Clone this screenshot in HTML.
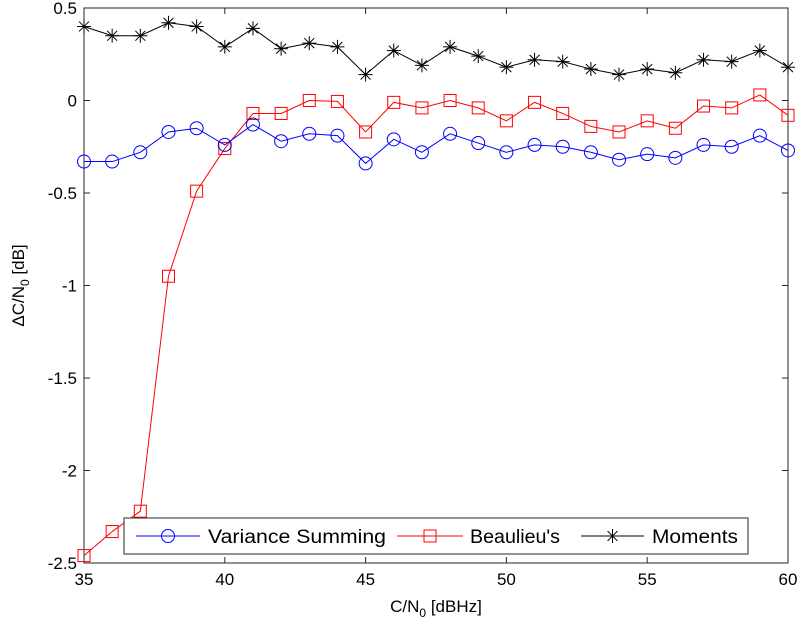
<!DOCTYPE html>
<html><head><meta charset="utf-8"><style>
body{margin:0;background:#fff;}
svg text{font-family:"Liberation Sans",Arial,sans-serif;fill:#000;}
</style></head><body>
<svg id="chart" width="798" height="628" xmlns="http://www.w3.org/2000/svg"></svg>
<script>
const xs=[35,36,37,38,39,40,41,42,43,44,45,46,47,48,49,50,51,52,53,54,55,56,57,58,59,60];
const variance=[-0.33,-0.33,-0.28,-0.17,-0.15,-0.24,-0.13,-0.22,-0.18,-0.19,-0.34,-0.21,-0.28,-0.18,-0.23,-0.28,-0.24,-0.25,-0.28,-0.32,-0.29,-0.31,-0.24,-0.25,-0.19,-0.27];
const beaulieu=[-2.46,-2.33,-2.22,-0.95,-0.49,-0.26,-0.07,-0.07,0.00,-0.005,-0.17,-0.01,-0.04,0.00,-0.04,-0.11,-0.01,-0.07,-0.14,-0.17,-0.11,-0.15,-0.03,-0.04,0.03,-0.08];
const moments=[0.40,0.35,0.35,0.42,0.40,0.29,0.39,0.28,0.31,0.29,0.14,0.27,0.19,0.29,0.24,0.18,0.22,0.21,0.17,0.14,0.17,0.15,0.22,0.21,0.27,0.18];
const xTicks=[35,40,45,50,55,60];
const yTicks=[0.5,0,-0.5,-1,-1.5,-2,-2.5];
const yTickLabels=["0.5","0","-0.5","-1","-1.5","-2","-2.5"];
const L=84,R=788,T=8,B=563;
const sx=v=>L+(v-35)/25*(R-L);
const sy=v=>T+(0.5-v)/3*(B-T);
const svg=document.getElementById('chart');
const NS='http://www.w3.org/2000/svg';
function mk(tag,attrs,parent){const e=document.createElementNS(NS,tag);for(const k in attrs)e.setAttribute(k,attrs[k]);(parent||svg).appendChild(e);return e;}
let box=mk('rect',{x:L,y:T,width:R-L,height:B-T,fill:'#fff',stroke:'#262626','stroke-width':1});


xTicks.forEach(t=>{const x=sx(t);
mk('line',{x1:x,x2:x,y1:B,y2:B-6,stroke:'#262626'});mk('line',{x1:x,x2:x,y1:T,y2:T+6,stroke:'#262626'});
const tx=mk('text',{x:x,y:B+22,'text-anchor':'middle','font-size':17});tx.textContent=t;

});
yTicks.forEach((t,i)=>{const y=sy(t);
mk('line',{x1:L,x2:L+6,y1:y,y2:y,stroke:'#262626'});mk('line',{x1:R,x2:R-6,y1:y,y2:y,stroke:'#262626'});
const tx=mk('text',{x:L-7,y:y+6,'text-anchor':'end','font-size':17});tx.textContent=yTickLabels[i];

});
const xl=mk('text',{x:(L+R)/2,y:612,'text-anchor':'middle','font-size':17});
xl.innerHTML='C/N<tspan font-size="12" dy="5">0</tspan><tspan dy="-5"> [dBHz]</tspan>';


const yl=mk('text',{transform:'translate(24,'+(T+B)/2+') rotate(-90)','text-anchor':'middle','font-size':17});
yl.innerHTML='ΔC/N<tspan font-size="12" dy="5">0</tspan><tspan dy="-5"> [dB]</tspan>';


function marker(type,x,y,c,g){
 if(type==='o')mk('circle',{cx:x,cy:y,r:6.5,fill:'none',stroke:c},g);
 else if(type==='s')mk('rect',{x:x-6,y:y-6,width:12,height:12,fill:'none',stroke:c},g);
 else{for(let a=0;a<4;a++){const an=a*Math.PI/4;mk('line',{x1:x-7*Math.cos(an),y1:y-7*Math.sin(an),x2:x+7*Math.cos(an),y2:y+7*Math.sin(an),stroke:c},g);}}
}
function series(vals,c,type,name){
 const g=mk('g',{});
 
 
 mk('polyline',{points:vals.map((v,i)=>sx(xs[i])+','+sy(v)).join(' '),fill:'none',stroke:c,'stroke-width':1},g);
 vals.forEach((v,i)=>marker(type,sx(xs[i]),sy(v),c,g));
}
series(moments,'#000','*','moments-series');
series(beaulieu,'#ff0000','s','beaulieu-series');
series(variance,'#0000ff','o','variance-summing-series');
const lg=mk('g',{});


mk('rect',{x:124,y:518,width:624,height:36,fill:'#fff',stroke:'#262626'},lg);
const items=[['Variance Summing','#0000ff','o',136,200,208,178],['Beaulieu\'s','#ff0000','s',397,463,470,90],['Moments','#000','*',581,644,652,86]];
items.forEach(([t,c,m,x1,x2,tx0,tl])=>{
 const g=mk('g',{},lg);
 
 
 mk('line',{x1:x1,x2:x2,y1:536,y2:536,stroke:c},g);marker(m,(x1+x2)/2,536,c,g);
 const tx=mk('text',{x:tx0,y:543,'font-size':19,textLength:tl,lengthAdjust:'spacingAndGlyphs'},g);tx.textContent=t;});
</script>
</body></html>
